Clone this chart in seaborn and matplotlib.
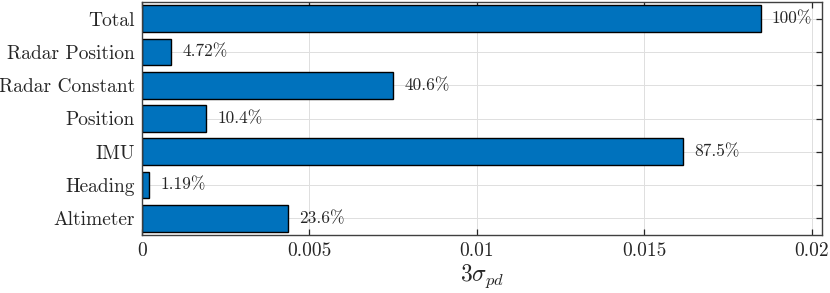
import matplotlib
matplotlib.use("Agg")
import matplotlib.pyplot as plt
import seaborn as sns
import pandas as pd
from matplotlib.ticker import FuncFormatter

# sources of the 3-sigma error (Total at the top)
fontes = ["Total", "Radar Position", "Radar Constant", "Position",
          "IMU", "Heading", "Altimeter"]
valores = [0.01848, 0.000872, 0.00750, 0.00192, 0.01617, 0.00022, 0.00436]
rotulos = ["100%", "4.72%", "40.6%", "10.4%", "87.5%", "1.19%", "23.6%"]

df = pd.DataFrame({"fonte": fontes, "valor": valores})

sns.set_style("white")
plt.rcParams["font.family"] = ["cmr10", "DejaVu Serif"]
plt.rcParams["mathtext.fontset"] = "cm"
plt.rcParams["axes.formatter.use_mathtext"] = True

fig = plt.figure(figsize=(8.3, 2.93), dpi=100)
ax = fig.add_axes([0.171, 0.198, 0.819, 0.795])

sns.barplot(data=df, x="valor", y="fonte", orient="h", color="#0072BD",
            saturation=1, width=0.8, edgecolor="black", linewidth=1, ax=ax)

ax.bar_label(ax.containers[0], labels=rotulos, padding=8, fontsize=12.5,
             color="#262626")

ax.set_xlim(0, 0.0203)
ax.set_ylim(6.5, -0.5)
ax.set_xticks([0, 0.005, 0.01, 0.015, 0.02])
ax.xaxis.set_major_formatter(FuncFormatter(lambda v, p: f"{v:g}"))
ax.set_xlabel(r"$3\sigma_{pd}$", fontsize=17, color="#262626", labelpad=2)
ax.set_ylabel("")

ax.grid(True, color="#dfdfdf", linewidth=0.7)
ax.set_axisbelow(True)
for s in ax.spines.values():
    s.set_visible(True)
    s.set_color("#404040")
    s.set_linewidth(1.0)
ax.tick_params(direction="in", length=4, width=0.9, color="#262626",
               labelsize=14, labelcolor="#262626", pad=5,
               top=True, right=True, bottom=True, left=True)

fig.savefig("out.png", dpi=100)
